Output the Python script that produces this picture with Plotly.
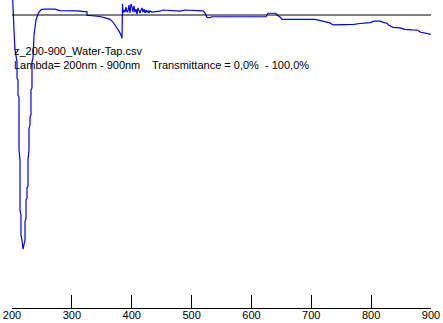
import plotly.graph_objects as go

# Spectrum (wavelength nm, transmittance %)
wavelength = [201.0, 201.7, 203.3, 205.0, 208.4, 208.4, 210.0, 210.0, 211.7, 211.7,
              213.4, 213.4, 215.0, 215.0, 216.7, 218.4,
              220.0, 221.7, 221.7, 223.4, 223.4, 225.1, 225.1, 226.7, 226.7, 228.4,
              228.4, 230.1, 230.1, 231.7, 231.7, 233.4, 233.4, 235.1, 236.8, 240.1,
              242.9, 245.1, 249.3, 255.1, 271.8, 280.2, 308.6, 325.3, 325.3, 335.3,
              347.0, 355.4, 363.7, 368.7, 375.4, 378.8, 382.1, 383.8,
              384.6, 385.4, 387.1, 388.8, 390.4, 392.1, 393.8, 395.5, 397.1, 398.8,
              400.5, 402.1, 403.8, 405.5, 407.2, 408.8, 410.5, 412.2, 413.8, 415.5,
              417.2, 418.8, 420.5, 422.2, 423.9, 425.5, 427.2, 428.9, 430.5, 433.9,
              438.9, 447.2, 452.3, 464.0, 472.3, 480.7, 489.0, 497.4, 509.1, 519.1,
              522.4, 525.8, 530.8, 534.1, 575.9, 624.3, 625.9, 627.7, 641.0, 642.7,
              647.7, 651.1, 706.2, 711.2, 717.9, 726.3, 731.3, 736.3, 769.7, 771.4,
              781.4, 791.4, 798.1, 804.8, 814.8, 821.5, 826.5, 829.8, 836.5, 848.2,
              856.5, 868.2, 878.2, 881.6, 889.9, 900.0]
transmittance = [106.0, 100.0, 94.9, 88.1, 84.0, 78.5, 77.8, 72.7, 72.0, 53.9,
                 50.5, 33.4, 31.7, 24.9, 23.2, 20.1,
                 21.5, 23.2, 29.4, 30.7, 36.9, 37.5, 41.0, 41.6, 50.5, 53.9,
                 61.4, 62.5, 65.2, 65.9, 74.4, 75.1, 84.0, 85.3, 93.2, 98.3,
                 100.0, 101.0, 101.9, 102.0, 102.0, 101.5, 101.4, 101.1, 99.9, 99.7,
                 99.5, 99.0, 98.5, 97.6, 95.8, 94.5, 93.2, 92.0,
                 103.8, 100.7, 101.7, 101.0, 102.7, 101.0, 101.4, 103.4, 100.7, 103.8,
                 102.7, 101.0, 103.1, 101.0, 102.0, 100.3, 102.4, 101.4, 100.7, 101.7,
                 102.4, 101.0, 102.0, 100.7, 101.7, 101.0, 101.4, 100.7, 101.4, 101.0,
                 101.1, 101.3, 101.7, 101.6, 101.3, 101.3, 101.7, 101.6, 101.6, 101.4,
                 100.7, 99.2, 99.1, 99.4, 99.4, 99.4, 100.0, 100.6, 100.6, 100.0,
                 99.3, 98.5, 98.5, 98.3, 98.0, 97.6, 97.3, 96.6, 96.6, 96.8,
                 97.1, 97.2, 97.4, 97.9, 97.9, 97.4, 97.2, 96.5, 95.8, 95.6,
                 95.1, 94.9, 94.8, 94.2, 93.9, 93.4]

reference_level = 100.0
x_ticks = [200, 300, 400, 500, 600, 700, 800, 900]

fig = go.Figure()
fig.add_trace(go.Scatter(x=wavelength, y=transmittance, mode="lines",
                         line=dict(color="#0000ff", width=1.2), hoverinfo="skip"))
fig.add_trace(go.Scatter(x=[x_ticks[0], x_ticks[-1]], y=[reference_level, reference_level],
                         mode="lines", line=dict(color="black", width=1), hoverinfo="skip"))

fnt = dict(family="Liberation Sans, Arial, sans-serif", size=11, color="black")
fig.add_annotation(x=200, y=87.7, xref="x", yref="y", text="z_200-900_Water-Tap.csv",
                   showarrow=False, xanchor="left", yanchor="middle", font=fnt)
fig.add_annotation(x=200, y=82.9, xref="x", yref="y", text="Lambda= 200nm - 900nm",
                   showarrow=False, xanchor="left", yanchor="middle", font=fnt)
fig.add_annotation(x=430.5, y=82.9, xref="x", yref="y", text="Transmittance = 0,0%  - 100,0%",
                   showarrow=False, xanchor="left", yanchor="middle", font=fnt)

fig.update_layout(
    width=443, height=323,
    margin=dict(l=12, r=12, t=0, b=15, autoexpand=False),
    paper_bgcolor="white", plot_bgcolor="white",
    showlegend=False,
    xaxis=dict(range=[200, 900], tickvals=x_ticks, ticktext=[str(v) for v in x_ticks],
               showgrid=False, zeroline=False, showline=True, linecolor="black", linewidth=1,
               ticks="inside", ticklen=13, tickwidth=1, tickcolor="black",
               tickfont=fnt, automargin=False, ticklabelstandoff=-3),
    yaxis=dict(range=[0, 105.12], visible=False, showgrid=False, zeroline=False,
               automargin=False),
)
fig.write_html("out.html", config={"displayModeBar": False},
               post_script="document.body.style.margin='0';document.body.style.overflow='hidden';")
